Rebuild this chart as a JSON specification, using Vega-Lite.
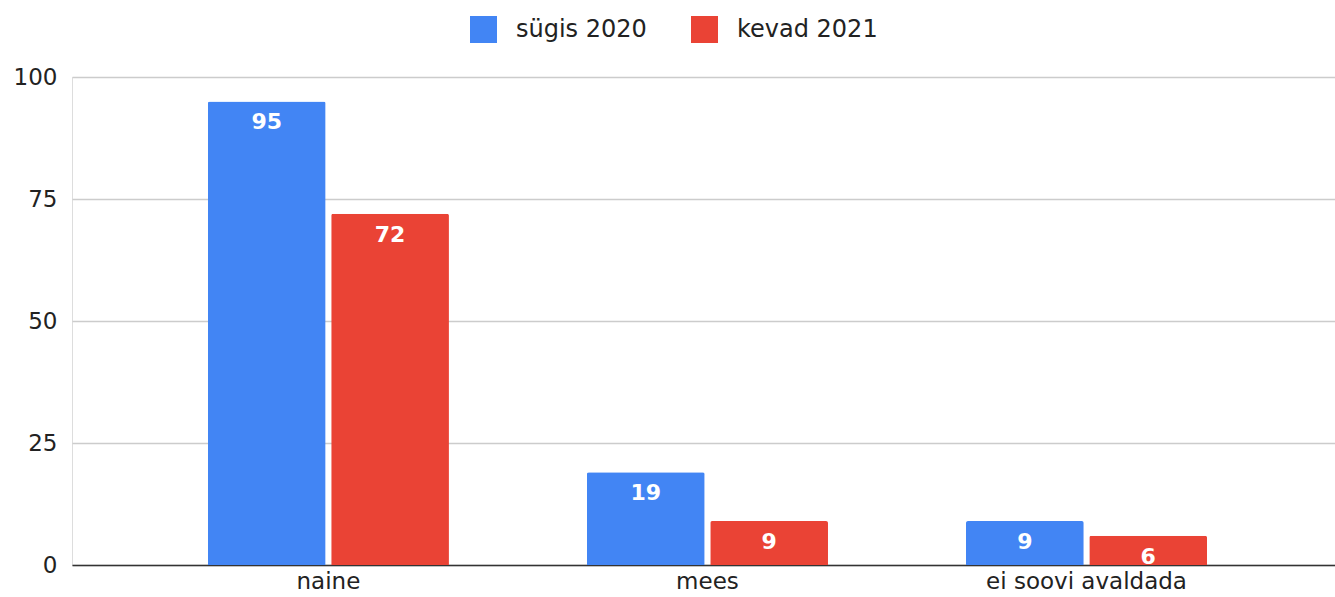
{
  "$schema": "https://vega.github.io/schema/vega-lite/v6.json",
  "autosize": "none",
  "width": 1263,
  "height": 488,
  "padding": {"left": 72, "top": 77, "right": 0, "bottom": 32},
  "background": "white",
  "data": {"values": [
    {"kategooria": "naine", "periood": "sügis 2020", "arv": 95},
    {"kategooria": "naine", "periood": "kevad 2021", "arv": 72},
    {"kategooria": "mees", "periood": "sügis 2020", "arv": 19},
    {"kategooria": "mees", "periood": "kevad 2021", "arv": 9},
    {"kategooria": "ei soovi avaldada", "periood": "sügis 2020", "arv": 9},
    {"kategooria": "ei soovi avaldada", "periood": "kevad 2021", "arv": 6}
  ]},
  "encoding": {
    "x": {"field": "kategooria", "type": "nominal", "sort": ["naine", "mees", "ei soovi avaldada"],
      "scale": {"paddingInner": 0.364, "paddingOuter": 0.348, "align": 0.515},
      "axis": {"title": null, "labelAngle": 0, "ticks": false, "domainColor": "#333333", "domainWidth": 1.5,
        "labelFont": "DejaVu Sans", "labelFontSize": 23, "labelColor": "#222222", "labelPadding": 5, "labelLimit": 0, "grid": false}},
    "xOffset": {"field": "periood", "type": "nominal", "sort": ["sügis 2020", "kevad 2021"], "scale": {"paddingInner": 0.045}},
    "y": {"field": "arv", "type": "quantitative", "scale": {"domain": [0, 100]},
      "axis": {"title": null, "values": [0, 25, 50, 75, 100], "ticks": false, "domain": false, "gridColor": "#cccccc", "gridWidth": 1.3,
        "labelFont": "DejaVu Sans", "labelFontSize": 23, "labelColor": "#222222", "labelPadding": 15}}
  },
  "layer": [
    {
      "mark": {"type": "bar", "cornerRadiusTopLeft": 2, "cornerRadiusTopRight": 2},
      "encoding": {
        "color": {"field": "periood", "type": "nominal", "sort": ["sügis 2020", "kevad 2021"],
          "scale": {"domain": ["sügis 2020", "kevad 2021"], "range": ["#4285F4", "#EA4335"]},
          "legend": {"title": null, "orient": "none", "legendX": 398, "legendY": -61, "direction": "horizontal",
            "symbolType": "square", "symbolSize": 729, "symbolStrokeWidth": 0, "labelFont": "DejaVu Sans", "labelFontSize": 24,
            "labelColor": "#222222", "labelOffset": 19, "columnPadding": 44, "padding": 0, "labelLimit": 0}}
      }
    },
    {
      "mark": {"type": "text", "color": "white", "baseline": "middle", "dy": 21, "font": "DejaVu Sans", "fontSize": 22, "fontWeight": "bold"},
      "encoding": {"text": {"field": "arv", "type": "quantitative"}}
    }
  ]
}
